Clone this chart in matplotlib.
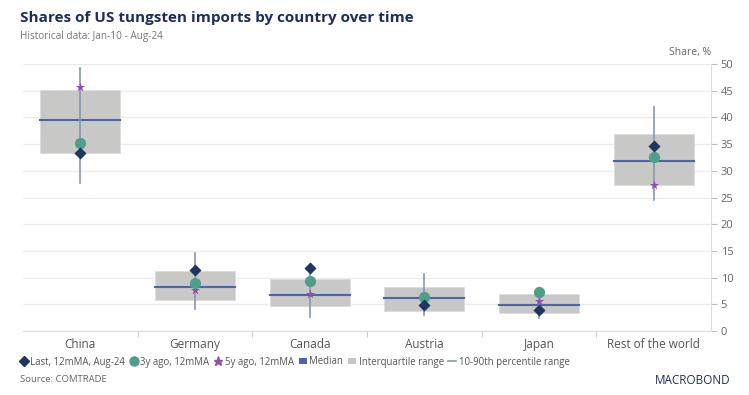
import matplotlib.pyplot as plt
from matplotlib.lines import Line2D
from matplotlib.patches import Patch

# -- data --
countries = ['China', 'Germany', 'Canada', 'Austria', 'Japan', 'Rest of the world']
p10 = [27.7, 4.2, 2.7, 3.0, 2.4, 24.5]
p25 = [33.3, 5.8, 4.7, 3.8, 3.4, 27.3]
median = [39.5, 8.3, 6.8, 6.1, 4.9, 31.8]
p75 = [45.1, 11.3, 9.7, 8.2, 6.9, 36.9]
p90 = [49.3, 14.6, 12.2, 10.7, 7.4, 42.0]
last = [33.3, 11.4, 11.8, 4.8, 4.0, 34.6]
ago3 = [35.2, 9.0, 9.4, 6.4, 7.3, 32.6]
ago5 = [45.7, 7.6, 6.9, 6.2, 5.7, 27.4]
yticks = list(range(0, 55, 5))

navy = '#1f3660'
teal = '#4f9e8c'
purple = '#8e4fb0'
box_col = '#c8c9c6'
med_col = '#4a66a8'
whisk_col = '#8796ae'
grid_col = '#ececec'
txt = '#666666'

plt.rcParams['font.family'] = ['Open Sans', 'DejaVu Sans']

fig = plt.figure(figsize=(7.49, 3.95), dpi=100)
ax = fig.add_axes([23 / 749, 64 / 395, (711 - 23) / 749, (331 - 64) / 395])

x = list(range(len(countries)))
w = 0.7
for i in x:
    ax.add_patch(plt.Rectangle((i - w / 2, p25[i]), w, p75[i] - p25[i],
                               facecolor=box_col, edgecolor='#dcdcdc', lw=0.6, zorder=2))
    ax.plot([i - w / 2, i + w / 2], [median[i], median[i]], color=med_col, lw=1.5, zorder=3)
    ax.plot([i, i], [p10[i], p90[i]], color=whisk_col, lw=1.2, zorder=3)

ax.scatter(x, ago5, marker='*', s=48, color=purple, zorder=4, linewidths=0)
ax.scatter(x, ago3, marker='o', s=65, color=teal, zorder=5, linewidths=0)
ax.scatter(x, last, marker='D', s=38, color=navy, zorder=6, linewidths=0)

ax.set_xlim(-0.5, len(countries) - 0.5)
ax.set_ylim(0, 50)
ax.yaxis.tick_right()
ax.set_yticks(yticks)
ax.tick_params(axis='y', colors='#bbbbbb', labelcolor=txt, labelsize=8, length=4, width=0.8, pad=3)
ax.set_xticks([i + 0.5 for i in x[:-1]])
ax.set_xticklabels([])
ax.tick_params(axis='x', colors='#cccccc', length=4, width=0.8)
for i, c in enumerate(countries):
    ax.text(i, -1.4, c, ha='center', va='top', fontsize=8.5, color='#555555')
ax.grid(axis='y', color=grid_col, lw=1)
ax.set_axisbelow(True)
for s in ['top', 'left']:
    ax.spines[s].set_visible(False)
ax.spines['right'].set_color('#dddddd')
ax.spines['bottom'].set_color('#dddddd')

fig.text(711 / 749, 1 - 52 / 395, 'Share, %', ha='right', va='center', fontsize=7.5, color=txt)
fig.text(20 / 749, 1 - 18 / 395, 'Shares of US tungsten imports by country over time',
         ha='left', va='center', fontsize=11, fontweight='bold', color='#1c2f5c')
fig.text(20 / 749, 1 - 36 / 395, 'Historical data: Jan-10 - Aug-24',
         ha='left', va='center', fontsize=7.2, color='#777777')

handles = [
    Line2D([], [], marker='D', color=navy, ls='', ms=5),
    Line2D([], [], marker='o', color=teal, ls='', ms=6.5),
    Line2D([], [], marker='*', color=purple, ls='', ms=6.5),
    Patch(facecolor=med_col),
    Patch(facecolor=box_col),
    Line2D([], [], color=whisk_col, lw=1.2),
]
labels = ['Last, 12mMA, Aug-24', '3y ago, 12mMA', '5y ago, 12mMA', 'Median',
          'Interquartile range', '10-90th percentile range']
fig.legend(handles, labels, loc='center left', bbox_to_anchor=(13 / 749, 1 - 362 / 395),
           ncol=6, frameon=False, fontsize=6.9, handlelength=0.8, handletextpad=0.3,
           columnspacing=0.5, handleheight=0.6, labelcolor='#555555', borderpad=0.2)

fig.text(20 / 749, 1 - 380 / 395, 'Source: COMTRADE', ha='left', va='center',
         fontsize=6.8, color='#666666')
fig.text(730 / 749, 1 - 380 / 395, 'MACROBOND', ha='right', va='center',
         fontsize=8.5, color='#1c2f5c')

fig.savefig('out.png', dpi=100)
